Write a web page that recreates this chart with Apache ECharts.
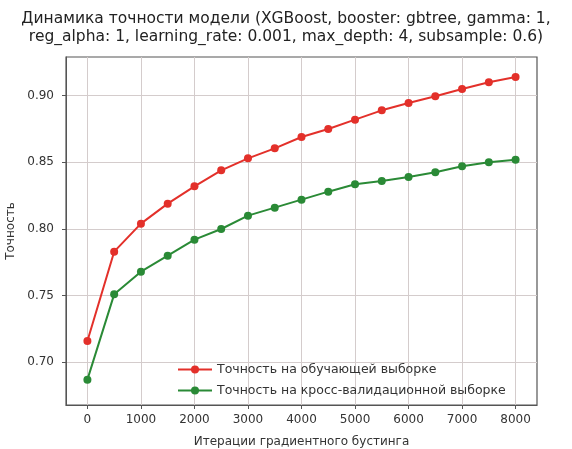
<!DOCTYPE html>
<html lang="ru">
<head>
    <meta charset="UTF-8">
    <title>Динамика точности модели</title>
    <script src="https://cdn.jsdelivr.net/npm/echarts@6/dist/echarts.min.js"></script>
    <style>
        body { margin: 0; background: #fff; }
        #main { width: 572px; height: 449px; }
    </style>
</head>
<body>
<div id="main"></div>
<script type="text/javascript">
    // данные с графика
    var iterations = [0, 500, 1000, 1500, 2000, 2500, 3000, 3500, 4000, 4500, 5000, 5500, 6000, 6500, 7000, 7500, 8000];
    var trainAcc = [0.716, 0.783, 0.804, 0.819, 0.832, 0.844, 0.853, 0.8605, 0.869, 0.875, 0.882, 0.889, 0.8945, 0.8995, 0.905, 0.910, 0.914];
    var cvAcc = [0.687, 0.751, 0.768, 0.780, 0.792, 0.800, 0.810, 0.816, 0.822, 0.828, 0.8335, 0.836, 0.839, 0.8425, 0.847, 0.850, 0.852];
    var xTicks = [0, 1000, 2000, 3000, 4000, 5000, 6000, 7000, 8000];
    var yTicks = [0.70, 0.75, 0.80, 0.85, 0.90];

    var font = 'DejaVu Sans';
    var myChart = echarts.init(document.getElementById('main'));

    function pairs(ys) {
        return ys.map(function (v, i) { return [iterations[i], v]; });
    }

    var option = {
        animation: false,
        backgroundColor: '#fff',
        title: {
            text: 'Динамика точности модели (XGBoost, booster: gbtree, gamma: 1,\nreg_alpha: 1, learning_rate: 0.001, max_depth: 4, subsample: 0.6)',
            left: 'center',
            top: 5,
            textStyle: {fontFamily: font, fontSize: 15.5, fontWeight: 'normal', color: '#222', lineHeight: 18}
        },
        grid: {
            left: 66, right: 35, top: 57, bottom: 44,
            outerBoundsMode: 'none',
            containLabel: false,
            show: true, borderColor: '#555', borderWidth: 1.2
        },
        legend: {
            orient: 'vertical',
            left: 172, top: 358,
            itemWidth: 34, itemHeight: 10, itemGap: 8,
            textStyle: {fontFamily: font, fontSize: 12.5, color: '#333'},
            data: ['Точность на обучающей выборке', 'Точность на кросс-валидационной выборке']
        },
        xAxis: {
            type: 'value',
            min: -400, max: 8400,
            name: 'Итерации градиентного бустинга',
            nameLocation: 'middle',
            nameGap: 31,
            nameTextStyle: {fontFamily: font, fontSize: 12, color: '#333'},
            axisLine: {show: true, onZero: false, lineStyle: {color: '#555'}},
            axisTick: {show: true, customValues: xTicks, length: 4, lineStyle: {color: '#555'}},
            axisLabel: {
                customValues: xTicks, fontFamily: font, fontSize: 12, color: '#333', margin: 9,
                formatter: function (v) { return String(v); }
            },
            splitLine: {show: true, lineStyle: {color: '#d4cccc', width: 1}}
        },
        yAxis: {
            type: 'value',
            min: 0.668, max: 0.929,
            name: 'Точность',
            nameLocation: 'middle',
            nameGap: 48,
            nameTextStyle: {fontFamily: font, fontSize: 12, color: '#333'},
            axisLine: {show: true, onZero: false, lineStyle: {color: '#555'}},
            axisTick: {show: true, customValues: yTicks, length: 4, lineStyle: {color: '#555'}},
            axisLabel: {
                customValues: yTicks, fontFamily: font, fontSize: 12, color: '#333', margin: 12,
                formatter: function (v) { return v.toFixed(2); }
            },
            splitLine: {show: true, lineStyle: {color: '#d4cccc', width: 1}}
        },
        series: [
            {
                name: 'Точность на обучающей выборке',
                type: 'line',
                data: pairs(trainAcc),
                symbol: 'circle', symbolSize: 8,
                itemStyle: {color: '#e3302a'},
                lineStyle: {color: '#e3302a', width: 2}
            },
            {
                name: 'Точность на кросс-валидационной выборке',
                type: 'line',
                data: pairs(cvAcc),
                symbol: 'circle', symbolSize: 8,
                itemStyle: {color: '#2a8a36'},
                lineStyle: {color: '#2a8a36', width: 2}
            }
        ]
    };
    myChart.setOption(option);
</script>
</body>
</html>
